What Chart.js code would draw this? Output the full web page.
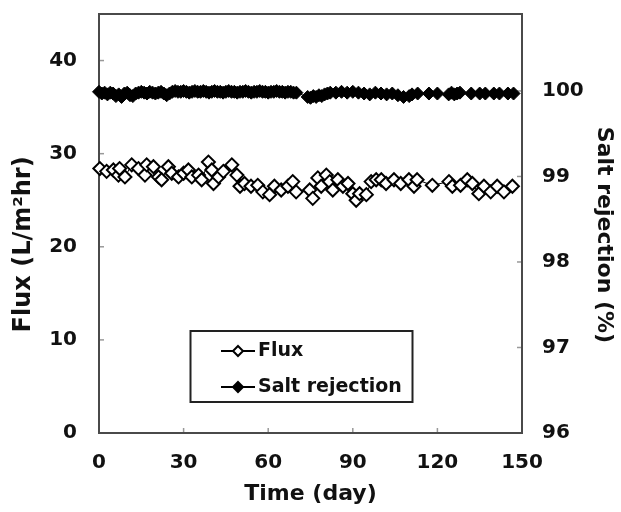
<!DOCTYPE html>
<html>
<head>
<meta charset="utf-8">
<script src="https://cdn.jsdelivr.net/npm/chart.js@4/dist/chart.umd.min.js"></script>
<style>
  html, body { margin: 0; padding: 0; background: #fff; }
  #wrap { width: 621px; height: 512px; }
</style>
</head>
<body>
<div id="wrap"><canvas id="fluxChart" width="621" height="512"></canvas></div>
<script>
// time (day) / flux (L/m2hr)
const fluxDays = [0.3, 2.7, 5.1, 6.9, 7.3, 9.2, 11.6, 14, 16.3, 16.9, 19.3, 21.1, 22.2, 24.6, 25.8, 28.2, 30, 31.7, 32.9, 35.3,
  36.4, 38.8, 40, 40.6, 42.4, 44.1, 47.1, 48.9, 50, 51.6, 53.9, 56.3, 58.1, 60.5, 62.2, 64.6, 67, 68.7, 69.9, 74.7,
  75.8, 77.6, 78.8, 80.6, 81.8, 82.9, 84.7, 86.5, 88.3, 90, 91.2, 92.4, 94.8, 96.5, 98.3, 100.1, 101.8, 104.6, 107, 109.9,
  111.7, 112.8, 118.2, 124.1, 125.3, 128.2, 130.6, 132.4, 134.7, 136.5, 138.9, 141.2, 143.6, 146.6];
const fluxValues = [28.4, 28.1, 28.25, 27.7, 28.4, 27.5, 28.8, 28.4, 27.7, 28.8, 28.6, 27.5, 27.2, 28.6, 27.9, 27.5, 27.9, 28.25, 27.5, 27.7,
  27.2, 29.1, 28.25, 26.8, 27.5, 28.1, 28.8, 27.7, 26.5, 26.8, 26.5, 26.6, 25.9, 25.6, 26.5, 26.1, 26.5, 27.0, 25.9, 26.1,
  25.2, 27.4, 26.5, 27.7, 27.0, 26.1, 27.2, 26.5, 26.8, 25.7, 25.0, 25.7, 25.6, 27.0, 27.2, 27.2, 26.8, 27.2, 26.8, 27.2,
  26.5, 27.2, 26.6, 27.0, 26.5, 26.6, 27.2, 26.8, 25.7, 26.5, 25.9, 26.5, 25.9, 26.5];

// time (day) / salt rejection (%)
const saltDays = [0, 1, 2, 3, 4, 5, 6, 7, 8, 9, 10, 11, 12, 13, 14, 15, 16, 17, 18, 19, 20, 21, 22, 23, 24, 25, 26, 27, 28, 29,
  30, 31, 32, 33, 34, 35, 36, 37, 38, 39, 40, 41, 42, 43, 44, 45, 46, 47, 48, 49, 50, 51, 52, 53, 54, 55, 56, 57, 58, 59,
  60, 61, 62, 63, 64, 65, 66, 67, 68, 69, 70, 74, 75, 76, 77, 78, 79, 80, 81, 82, 84, 86, 88, 90, 92, 94, 96, 98, 100, 102,
  104, 106, 108, 110, 111, 113, 117, 120, 124, 125, 126, 127, 128, 132, 135, 137, 140, 142, 145, 147];
const saltValues = [99.99, 99.97, 99.98, 99.96, 99.98, 99.97, 99.94, 99.96, 99.93, 99.97, 99.98, 99.95, 99.94, 99.97, 99.98, 99.99, 99.98, 99.97, 99.99, 99.98,
  99.97, 99.98, 99.99, 99.97, 99.95, 99.97, 99.99, 100.0, 99.99, 99.99, 100.0, 99.99, 99.98, 99.99, 100.0, 99.99, 99.99, 100.0, 99.99, 99.98,
  99.99, 100.0, 99.99, 99.99, 99.98, 99.99, 100.0, 99.99, 99.99, 99.98, 99.99, 99.99, 100.0, 99.99, 99.98, 99.99, 99.99, 100.0, 99.99, 99.99,
  99.98, 99.99, 99.99, 100.0, 99.99, 99.99, 99.98, 99.99, 99.99, 99.98, 99.98, 99.93, 99.92, 99.94, 99.93, 99.95, 99.94, 99.96, 99.97, 99.98,
  99.98, 99.99, 99.98, 99.99, 99.98, 99.97, 99.96, 99.98, 99.97, 99.96, 99.97, 99.95, 99.93, 99.94, 99.96, 99.97, 99.97, 99.97, 99.96, 99.98,
  99.96, 99.97, 99.98, 99.97, 99.97, 99.97, 99.97, 99.97, 99.97, 99.97];

const timeRange = [0, 150];
const fluxRange = [0, 45];
const saltRange = [96, 100.9];

const FONT = "'DejaVu Sans', sans-serif";
const NBSP = "\u00A0";

function toPoints(xs, ys) {
  return xs.map(function (x, i) { return { x: x, y: ys[i] }; });
}

function diamond(ctx, x, y, r, filled) {
  ctx.beginPath();
  ctx.moveTo(x, y - r);
  ctx.lineTo(x + r, y);
  ctx.lineTo(x, y + r);
  ctx.lineTo(x - r, y);
  ctx.closePath();
  ctx.fillStyle = filled ? "#000" : "#fff";
  ctx.fill();
  ctx.lineWidth = 2;
  ctx.strokeStyle = "#000";
  ctx.stroke();
}

// don't let the tick label padding push the plot area down
function noOverhang(s) {
  s.paddingTop = 0;
  s.paddingBottom = 0;
  s.paddingLeft = 0;
  s.paddingRight = 0;
}

// box round the plot + short inward tick marks + legend box
const framePlugin = {
  id: "frame",
  beforeDatasetsDraw(chart) {
    const ctx = chart.ctx;
    const a = chart.chartArea;
    ctx.save();
    ctx.strokeStyle = "#999";
    ctx.lineWidth = 1.5;
    chart.scales.x.ticks.forEach(function (t) {
      if (t.value <= timeRange[0] || t.value >= timeRange[1]) return;
      const px = chart.scales.x.getPixelForValue(t.value);
      ctx.beginPath(); ctx.moveTo(px, a.bottom); ctx.lineTo(px, a.bottom - 5); ctx.stroke();
    });
    chart.scales.y.ticks.forEach(function (t) {
      if (t.value <= fluxRange[0]) return;
      const py = chart.scales.y.getPixelForValue(t.value);
      ctx.beginPath(); ctx.moveTo(a.left, py); ctx.lineTo(a.left + 5, py); ctx.stroke();
    });
    chart.scales.y1.ticks.forEach(function (t) {
      if (t.value <= saltRange[0]) return;
      const py = chart.scales.y1.getPixelForValue(t.value);
      ctx.beginPath(); ctx.moveTo(a.right, py); ctx.lineTo(a.right - 5, py); ctx.stroke();
    });
    ctx.strokeStyle = "#4a4a4a";
    ctx.lineWidth = 2;
    ctx.strokeRect(a.left, a.top, a.right - a.left, a.bottom - a.top);
    ctx.restore();
  },
  afterDraw(chart) {
    const ctx = chart.ctx;
    ctx.save();
    ctx.strokeStyle = "#222";
    ctx.lineWidth = 2;
    ctx.strokeRect(190.5, 331, 222, 71);
    const rows = [
      { label: "Flux", y: 351, filled: false },
      { label: "Salt rejection", y: 387, filled: true },
    ];
    rows.forEach(function (r) {
      ctx.strokeStyle = "#000";
      ctx.lineWidth = 2;
      ctx.beginPath(); ctx.moveTo(221, r.y); ctx.lineTo(255, r.y); ctx.stroke();
      diamond(ctx, 238, r.y, 5, r.filled);
      ctx.fillStyle = "#111";
      ctx.font = "bold 19px " + FONT;
      ctx.textBaseline = "middle";
      ctx.textAlign = "left";
      ctx.fillText(r.label, 258, r.y);
    });
    ctx.restore();
  },
};

const ctx = document.getElementById("fluxChart");

new Chart(ctx.getContext("2d"), {
  type: "line",
  data: {
    datasets: [
      {
        label: "Flux",
        data: toPoints(fluxDays, fluxValues),
        yAxisID: "y",
        borderColor: "#000",
        borderWidth: 1,
        backgroundColor: "#fff",
        pointStyle: "rectRot",
        pointRadius: 6.5,
        pointBorderWidth: 2,
        pointBorderColor: "#000",
        pointBackgroundColor: "#fff",
        tension: 0,
        clip: false,
      },
      {
        label: "Salt rejection",
        data: toPoints(saltDays, saltValues),
        yAxisID: "y1",
        borderColor: "#000",
        borderWidth: 1,
        backgroundColor: "#000",
        pointStyle: "rectRot",
        pointRadius: 6.5,
        pointBorderWidth: 1,
        pointBorderColor: "#000",
        pointBackgroundColor: "#000",
        tension: 0,
        clip: false,
      },
    ],
  },
  options: {
    responsive: false,
    animation: false,
    layout: { padding: { top: 14, left: 0, right: 0, bottom: 0 } },
    plugins: {
      legend: { display: false },
      tooltip: { enabled: false },
    },
    scales: {
      x: {
        type: "linear",
        min: timeRange[0],
        max: timeRange[1],
        grid: { display: false, drawTicks: false },
        border: { display: false },
        ticks: { stepSize: 30, padding: 18, color: "#111", font: { family: FONT, size: 20, weight: "bold" } },
        title: { display: true, text: "Time (day)", color: "#111", padding: { bottom: 5, top: 0 },
          font: { family: FONT, size: 22, weight: "bold" } },
        afterFit: function (s) { s.height = 79; noOverhang(s); },
      },
      y: {
        position: "left",
        min: fluxRange[0],
        max: fluxRange[1],
        grid: { display: false, drawTicks: false },
        border: { display: false },
        ticks: { stepSize: 10, includeBounds: false, padding: 22, color: "#111",
          font: { family: FONT, size: 20, weight: "bold" } },
        title: { display: true, text: "Flux (L/m\u00B2hr)" + NBSP.repeat(5), color: "#111", padding: { top: 9, bottom: 0 },
          font: { family: FONT, size: 24, weight: "bold" } },
        afterFit: function (s) { s.width = 99; noOverhang(s); },
      },
      y1: {
        position: "right",
        min: saltRange[0],
        max: saltRange[1],
        grid: { display: false, drawTicks: false },
        border: { display: false },
        ticks: { stepSize: 1, includeBounds: false, padding: 20, color: "#111",
          font: { family: FONT, size: 20, weight: "bold" } },
        title: { display: true, text: NBSP.repeat(3) + "Salt rejection (%)", color: "#111", padding: { top: 4, bottom: 0 },
          font: { family: FONT, size: 22, weight: "bold" } },
        afterFit: function (s) { s.width = 99; noOverhang(s); },
      },
    },
  },
  plugins: [framePlugin],
});
</script>
</body>
</html>
